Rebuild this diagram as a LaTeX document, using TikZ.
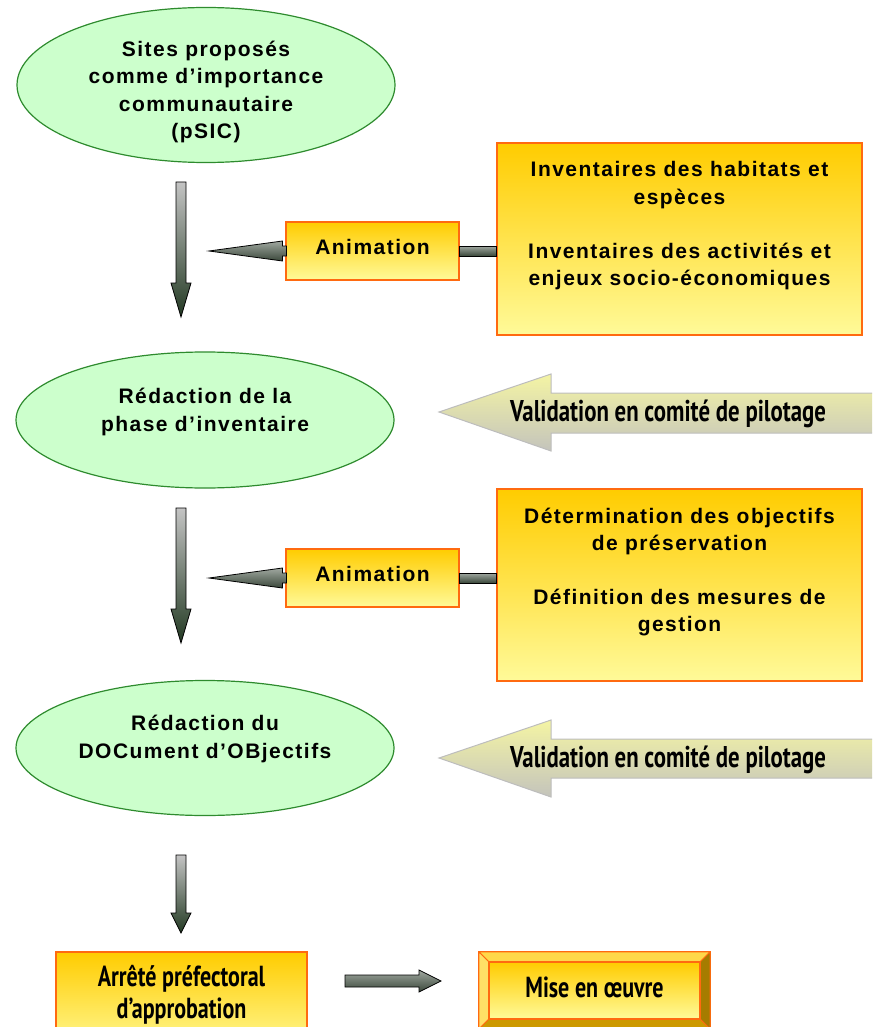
\documentclass[tikz,border=0pt]{standalone}
\usepackage{fontspec}
\setmainfont{Liberation Sans}
\newfontfamily\tahfont[LetterSpace=7]{Liberation Sans}
\newfontfamily\condfont[FakeStretch=0.76]{PT Sans}
\usetikzlibrary{shapes.geometric,calc}
\definecolor{ellfill}{HTML}{CCFFCC}
\definecolor{ellline}{HTML}{2E8B2E}
\definecolor{boxline}{HTML}{FF6A10}
\definecolor{boxtop}{HTML}{FFCC00}
\definecolor{boxbot}{HTML}{FFFA99}
\definecolor{valtop}{HTML}{F4F4A4}
\definecolor{valbot}{HTML}{C4C4BC}
\definecolor{valline}{HTML}{BDBDBD}
\definecolor{vtop}{HTML}{C4C4C4}
\definecolor{vbot}{HTML}{233A23}
\definecolor{htop}{HTML}{A0A8A0}
\definecolor{hbot}{HTML}{3A473A}
\definecolor{bevtop}{HTML}{FFD84A}
\definecolor{bevleft}{HTML}{FFE066}
\definecolor{bevright}{HTML}{A67C00}
\definecolor{bevbot}{HTML}{CC9900}
\newcommand\vdownarrow[4]{%
  \path[varrow] (#1-5,#2) -- (#1+5,#2) -- (#1+5,#3) -- (#1+10,#3) -- (#1,#4)
     -- (#1-10,#3) -- (#1-5,#3) -- cycle;}
\begin{document}
\begin{tikzpicture}[x=1pt,y=-1pt,
  ell/.style={ellipse, draw=ellline, line width=1.2pt, fill=ellfill,
    minimum width=378pt, inner sep=0pt},
  etxt/.style={align=center, inner sep=0pt, font=\tahfont\bfseries\fontsize{21}{27.3}\selectfont},
  gbox/.style={draw=boxline, line width=1.2pt, top color=boxtop, bottom color=boxbot, inner sep=0pt},
  varrow/.style={draw=black, line width=0.8pt, top color=vtop, bottom color=vbot},
  harrow/.style={draw=black, line width=0.8pt, top color=htop, bottom color=hbot},
  valarrow/.style={draw=valline, line width=1pt, top color=valtop, bottom color=valbot},
  ctxt/.style={align=center, inner sep=0pt, font=\condfont\bfseries\fontsize{30}{32}\selectfont},
  btxt/.style={align=center, inner sep=0pt, font=\condfont\bfseries\fontsize{29}{32}\selectfont},
]
\useasboundingbox (0,0) rectangle (872,1027);
\clip (0,0) rectangle (872,1027);

% ellipses
\node[ell, minimum height=155pt] (e1) at (206,85) {};
\node[etxt] (t1) at (206,92) {Sites proposés\\comme d’importance\\communautaire\\(pSIC)};
\node[ell, minimum height=136pt] (e2) at (205,420) {};
\node[etxt] (t2) at (205,412) {Rédaction de la\\phase d’inventaire};
\node[ell, minimum height=135pt] (e3) at (205,748) {};
\node[etxt] (t3) at (205,739) {Rédaction du\\DOCument d’OBjectifs};

% vertical arrows
\vdownarrow{181}{182}{283}{317}
\vdownarrow{181}{508}{609}{643}
\vdownarrow{181}{855}{913}{933}

% inventory boxes
\node[gbox, minimum width=365pt, minimum height=192pt] (inv1) at (679.5,239) {};
\node[etxt] (it1) at (679.5,226) {Inventaires des habitats et\\espèces\\[27pt]Inventaires des activités et\\enjeux socio-économiques};
\node[gbox, minimum width=365pt, minimum height=192pt] (inv2) at (679.5,585) {};
\node[etxt] (it2) at (679.5,572) {Détermination des objectifs\\de préservation\\[27pt]Définition des mesures de\\gestion};

% animation boxes
\node[gbox, minimum width=173pt, minimum height=58pt,
  label={[etxt, yshift=4pt]center:Animation}] (an1) at (372.5,251) {};
\node[gbox, minimum width=173pt, minimum height=58pt,
  label={[etxt, yshift=4pt]center:Animation}] (an2) at (372.5,578) {};

% connectors animation -> inventory
\path[harrow] ($(an1.east)+(0,-5)$) rectangle ($(an1.east -| inv1.west)+(0,5)$);
\path[harrow] ($(an2.east)+(0,-5)$) rectangle ($(an2.east -| inv2.west)+(0,5)$);
\coordinate (tip1) at (209,251);
\coordinate (tip2) at (209,578);
\path[harrow] (tip1) -- ($(an1.west)+(-3,-10)$) -- ($(an1.west)+(-3,-5)$) -- ($(an1.west)+(1,-5)$)
   -- ($(an1.west)+(1,5)$) -- ($(an1.west)+(-3,5)$) -- ($(an1.west)+(-3,10)$) -- cycle;
\path[harrow] (tip2) -- ($(an2.west)+(-3,-10)$) -- ($(an2.west)+(-3,-5)$) -- ($(an2.west)+(1,-5)$)
   -- ($(an2.west)+(1,5)$) -- ($(an2.west)+(-3,5)$) -- ($(an2.west)+(-3,10)$) -- cycle;

% validation arrows
\path[valarrow] (439,412) -- (551,374) -- (551,393) -- (880,393) -- (880,433) -- (551,433) -- (551,451) -- cycle;
\node[ctxt] (v1) at (668,414) {Validation en comité de pilotage};
\path[valarrow] (439,758) -- (551,720) -- (551,739) -- (880,739) -- (880,778) -- (551,778) -- (551,797) -- cycle;
\node[ctxt] (v2) at (668,760) {Validation en comité de pilotage};

% bottom
\node[gbox, minimum width=251pt, minimum height=100pt] (arr) at (181.5,1002) {};
\node[btxt] (arrt) at (181.5,995) {Arrêté préfectoral\\d’approbation};

\path[harrow] (345,975) -- (419,975) -- (419,970) -- (441,981) -- (419,992) -- (419,987) -- (345,987) -- cycle;

\path[draw=boxline, line width=1.2pt, fill=bevbot] (479,952) rectangle (710,1029);
\path[fill=bevtop, draw=boxline, line width=0.8pt] (479,952) -- (710,952) -- (700,962) -- (489,962) -- cycle;
\path[fill=bevleft, draw=boxline, line width=0.8pt] (479,952) -- (489,962) -- (489,1019) -- (479,1029) -- cycle;
\path[fill=bevright, draw=boxline, line width=0.8pt] (710,952) -- (700,962) -- (700,1019) -- (710,1029) -- cycle;
\path[fill=bevbot, draw=boxline, line width=0.8pt] (489,1019) -- (700,1019) -- (710,1029) -- (479,1029) -- cycle;
\node[gbox, minimum width=211pt, minimum height=57pt] (mise) at (594.5,990.5) {};
\node[btxt] (miset) at (594.5,987) {Mise en œuvre};

\draw[draw=none] (e1) -- (e2) (e2) -- (e3) (e3) -- (arr) (arr) -- (mise);
\end{tikzpicture}
\end{document}
